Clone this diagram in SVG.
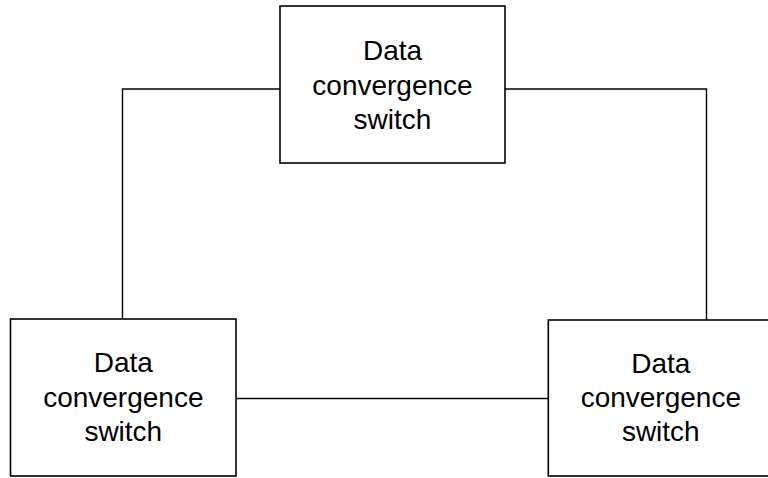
<svg xmlns="http://www.w3.org/2000/svg" width="768" height="478" viewBox="0 0 768 478">
<style>
.box{fill:#fff;stroke:#000;stroke-width:1.6}
.lbl{font-family:"Liberation Sans",Arial,sans-serif;font-size:28px;fill:#000;text-anchor:middle}
.con{fill:none;stroke:#000;stroke-width:1.4}
</style>
<rect width="768" height="478" fill="#fff"/>
<g id="connectors">
<polyline class="con" points="280,89 122.5,89 122.5,319"/>
<polyline class="con" points="505,89 706.5,89 706.5,320"/>
<line class="con" x1="236" y1="398.5" x2="548" y2="398.5"/>
</g>
<g id="top">
<rect class="box" x="280" y="6" width="225" height="157"/>
<text class="lbl" x="392.5" y="59.5">Data</text>
<text class="lbl" x="392.5" y="94.5">convergence</text>
<text class="lbl" x="392.5" y="129">switch</text>
</g>
<g id="left">
<rect class="box" x="10.5" y="319" width="225.5" height="157"/>
<text class="lbl" x="123.3" y="372">Data</text>
<text class="lbl" x="123.3" y="406.5">convergence</text>
<text class="lbl" x="123.3" y="441">switch</text>
</g>
<g id="right">
<rect class="box" x="548.3" y="320" width="225" height="156"/>
<text class="lbl" x="660.8" y="372.5">Data</text>
<text class="lbl" x="660.8" y="407">convergence</text>
<text class="lbl" x="660.8" y="441">switch</text>
</g>
</svg>
